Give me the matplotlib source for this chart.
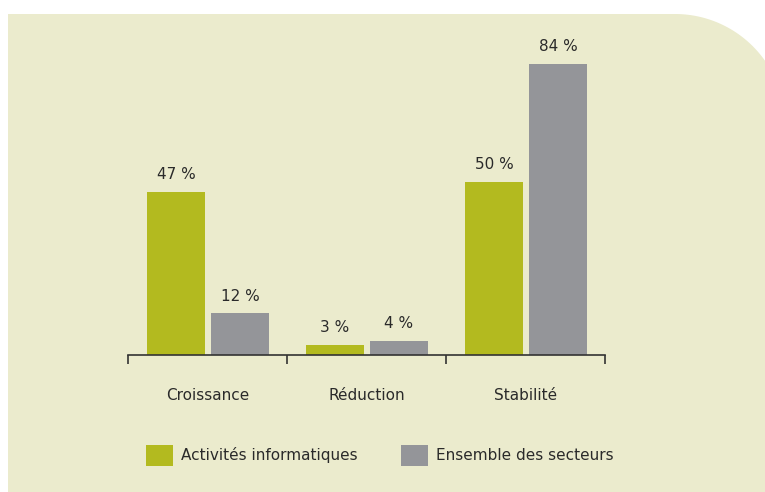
import numpy as np
import matplotlib
matplotlib.use("Agg")
import matplotlib.pyplot as plt
from matplotlib.patches import Polygon, Patch

categories = ["Croissance", "Réduction", "Stabilité"]
series_names = ["Activités informatiques", "Ensemble des secteurs"]
informatique = [47, 3, 50]
ensemble = [12, 4, 84]

GREEN = "#B3BA1F"
GRAY = "#949599"
BG = "#EBEBCD"
TXT = "#2A2A2A"

plt.rcParams['font.family'] = ['DejaVu Sans']

W, H = 765, 492
fig = plt.figure(figsize=(W / 100, H / 100), dpi=100)
fig.patch.set_facecolor("white")

# background panel with rounded top-right corner (pixel coords from top-left)
R = 110
cx, cy = 675, 14 + R
ang = np.linspace(np.pi / 2, 0, 80)
arc = [(cx + R * np.cos(a), cy - R * np.sin(a)) for a in ang]
pts = [(8, 492), (8, 14)] + arc + [(cx + R, 492)]
pts = [(x / W, 1 - y / H) for x, y in pts]
fig.patches.append(Polygon(pts, closed=True, transform=fig.transFigure,
                           facecolor=BG, edgecolor="none", zorder=-5))

# main axes: x 128..605 px, baseline at y=355 px, 3.47 px per %
x0, x1 = 128, 605
base = 355
ppp = 3.47
ymax = 100
ax = fig.add_axes([x0 / W, (H - base) / H, (x1 - x0) / W, ymax * ppp / H])
ax.set_facecolor("none")
ax.set_xlim(0, 3)
ax.set_ylim(0, ymax)

pos = np.arange(len(categories)) + 0.5
bw = 58 / 159
b1 = ax.bar(pos - 0.198, informatique, width=bw, color=GREEN, zorder=2)
b2 = ax.bar(pos + 0.204, ensemble, width=bw, color=GRAY, zorder=2)

fs = 11

for bars, vals in ((b1, informatique), (b2, ensemble)):
    for r, v in zip(bars, vals):
        ax.annotate(f"{v} %", (r.get_x() + r.get_width() / 2, v),
                    xytext=(0, 7), textcoords="offset points",
                    ha="center", va="bottom", fontsize=fs, color=TXT)

for s in ("top", "right", "left"):
    ax.spines[s].set_visible(False)
ax.spines["bottom"].set_color("#333333")
ax.spines["bottom"].set_linewidth(1.2)
ax.set_yticks([])
ax.set_xticks([0, 1, 2, 3])
ax.set_xticklabels([])
ax.tick_params(axis="x", direction="out", length=6.5, width=1.2, color="#333333")

for p, c in zip(pos, categories):
    ax.annotate(c, (p, 0), xytext=(0, -41 * 0.72), textcoords="offset points",
                ha="center", va="center", fontsize=fs, color=TXT)

handles = [Patch(facecolor=GREEN, edgecolor="none"),
           Patch(facecolor=GRAY, edgecolor="none")]
fpx = fs * 100 / 72
fig.legend(handles, series_names, loc="center left",
           bbox_to_anchor=(146 / W, 1 - 455.5 / H), ncol=2, frameon=False,
           fontsize=fs, handlelength=27 / fpx, handleheight=27 / fpx,
           handletextpad=8 / fpx, columnspacing=43 / fpx,
           borderpad=0, borderaxespad=0, labelcolor=TXT)

fig.savefig("out.png", dpi=100, facecolor=fig.get_facecolor())
